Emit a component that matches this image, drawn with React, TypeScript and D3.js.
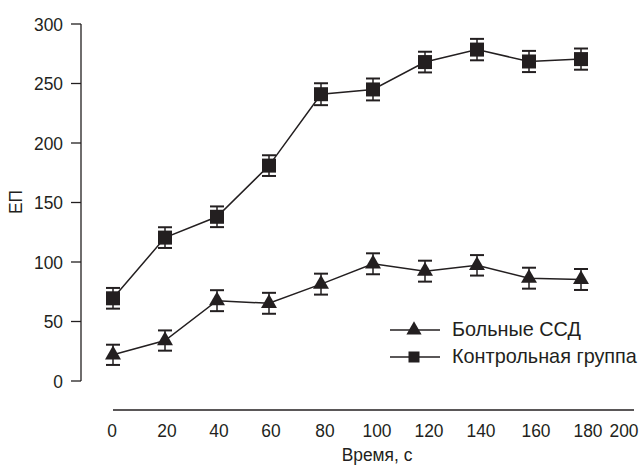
import React from "react";
import * as d3 from "d3";

const times = [0, 20, 40, 60, 80, 100, 120, 140, 160, 180];
const patients = [22, 34, 67.5, 65.3, 81.4, 98.5, 92.3, 97.2, 86.4, 85.3];
const patientsErr = [8.5, 8.5, 8.8, 8.8, 8.8, 8.8, 8.8, 8.6, 8.8, 8.8];
const control = [69.5, 120.5, 138, 181, 241, 245, 268, 278.5, 268.5, 270.5];
const controlErr = [8.7, 8.7, 8.7, 8.7, 9.2, 9.2, 8.7, 9, 8.9, 8.9];
const yTicks = [0, 50, 100, 150, 200, 250, 300];
const xTicks = [0, 20, 40, 60, 80, 100, 120, 140, 160, 180, 200];
const seriesNames = ["Больные ССД", "Контрольная группа"];

const W = 643;
const H = 465;
const INK = "#231f20";
const FONT = "'Liberation Sans', Arial, sans-serif";

function Label(props: {
  x: number;
  y: number;
  anchor?: "start" | "middle" | "end";
  dy?: string;
  rotate?: number;
  fs?: number;
  sx?: number;
  children: React.ReactNode;
}) {
  const { x, y, anchor = "start", dy, rotate = 0, fs = 19, sx = 0.915, children } = props;
  return (
    <g transform={`translate(${x},${y}) rotate(${rotate}) scale(${sx},1)`}>
      <text x={0} y={0} dy={dy} textAnchor={anchor} fontSize={fs} fill={INK}>
        {children}
      </text>
    </g>
  );
}

export default function App() {
  const x = d3.scaleLinear().domain([0, 200]).range([113, 633]);
  const y = d3.scaleLinear().domain([0, 300]).range([381, 24]);
  const line = d3
    .line<number>()
    .x((_, i) => x(times[i]))
    .y((d) => y(d));

  const tri = d3.symbol().type(d3.symbolTriangle).size(110)();
  const triLeg = d3.symbol().type(d3.symbolTriangle).size(100)();

  const labelShift = (t: number) => (t === 200 ? -9 : t >= 160 ? 7 : t >= 80 ? 4 : t === 0 ? -1 : 2);

  const errBars = (vals: number[], errs: number[]) =>
    vals.map((v, i) => {
      const cx = x(times[i]);
      const top = y(v + errs[i]);
      const bot = y(v - errs[i]);
      return (
        <g key={i} stroke={INK}>
          <line x1={cx} x2={cx} y1={top} y2={bot} strokeWidth={1.5} />
          <line x1={cx - 7} x2={cx + 7} y1={top} y2={top} strokeWidth={2} />
          <line x1={cx - 7} x2={cx + 7} y1={bot} y2={bot} strokeWidth={2} />
        </g>
      );
    });

  return (
    <svg
      width={W}
      height={H}
      style={{ position: "absolute", left: 0, top: 0, background: "#fff" }}
      fontFamily={FONT}
    >
      {/* Y axis */}
      <line x1={81} x2={81} y1={y(300)} y2={y(0)} stroke={INK} strokeWidth={1.3} />
      {yTicks.map((t) => (
        <g key={t}>
          <line x1={71} x2={81} y1={y(t)} y2={y(t)} stroke={INK} strokeWidth={1.3} />
          <Label x={63} y={y(t)} dy="0.36em" anchor="end">
            {t}
          </Label>
        </g>
      ))}
      <Label x={15} y={202} rotate={-90} anchor="middle" dy="0.36em">
        ЕП
      </Label>

      {/* X axis */}
      <line x1={x(0)} x2={x(200) + 1} y1={410} y2={410} stroke={INK} strokeWidth={1.3} />
      {xTicks.map((t) => (
        <Label key={t} x={x(t) + labelShift(t)} y={437} anchor="middle">
          {t}
        </Label>
      ))}
      <Label x={377} y={461} anchor="middle">
        Время, с
      </Label>

      {/* Control series */}
      <path d={line(control) || ""} fill="none" stroke={INK} strokeWidth={1.5} />
      {errBars(control, controlErr)}
      {control.map((v, i) => (
        <rect key={i} x={x(times[i]) - 7} y={y(v) - 7} width={14} height={14} fill={INK} />
      ))}

      {/* Patients series */}
      <path d={line(patients) || ""} fill="none" stroke={INK} strokeWidth={1.5} />
      {errBars(patients, patientsErr)}
      {patients.map((v, i) => (
        <path key={i} d={tri || ""} transform={`translate(${x(times[i])},${y(v)})`} fill={INK} />
      ))}

      {/* Legend */}
      <g>
        <line x1={390} x2={440} y1={330} y2={330} stroke={INK} strokeWidth={1.5} />
        <path d={triLeg || ""} transform={`translate(414,330)`} fill={INK} />
        <Label x={452} y={336} fs={21} sx={0.945}>{seriesNames[0]}</Label>
        <line x1={390} x2={440} y1={357} y2={357} stroke={INK} strokeWidth={1.5} />
        <rect x={408.5} y={351.5} width={11} height={11} fill={INK} />
        <Label x={452} y={363} fs={21} sx={0.945}>{seriesNames[1]}</Label>
      </g>
    </svg>
  );
}
